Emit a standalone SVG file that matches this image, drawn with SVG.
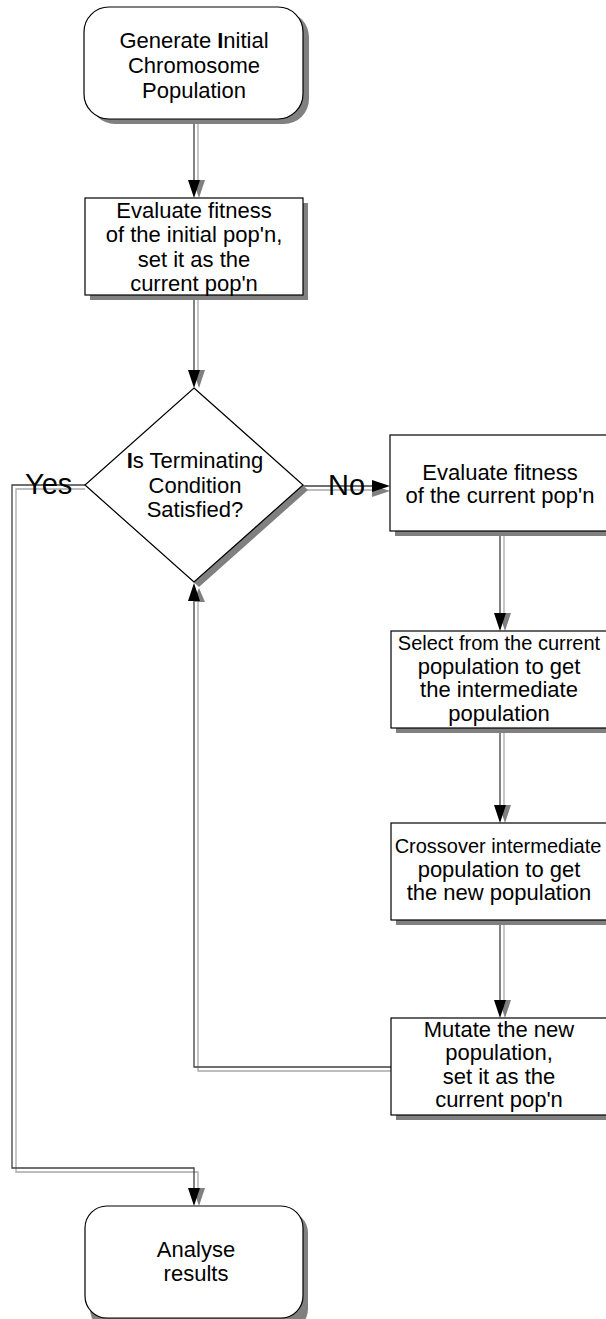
<svg xmlns="http://www.w3.org/2000/svg" width="606" height="1319" viewBox="0 0 606 1319">
<style>
.shadow{fill:#808080;stroke:none}
.node{fill:#fff;stroke:#000;stroke-width:1.2}
.t{font-family:"Liberation Sans",Arial,sans-serif;font-size:22px;fill:#000;text-anchor:middle}
.t.s{font-size:20px}
.lbl{font-family:"Liberation Sans",Arial,sans-serif;font-size:29px;fill:#000}
.ln{fill:none;stroke:#404040;stroke-width:1.3}
.lns{fill:none;stroke:#a8a8a8;stroke-width:1.3}
.ah{fill:#000}
.ahs{fill:#808080}
.b{font-weight:bold}
</style>
<rect width="606" height="1319" fill="#fff"/>
<g id="connectors">
  <path class="lns" d="M198,119 V182"/>
  <path class="ln" d="M194,119 V182"/>
  <polygon class="ahs" points="193,180 205,180 199,198"/>
  <polygon class="ah" points="188,180 200,180 194,198"/>
  <path class="lns" d="M198,295 V372"/>
  <path class="ln" d="M194,295 V372"/>
  <polygon class="ahs" points="193,370 205,370 199,388"/>
  <polygon class="ah" points="188,370 200,370 194,388"/>
  <path class="lns" d="M307,490 H375"/>
  <path class="ln" d="M303,486 H375"/>
  <polygon class="ahs" points="372,485 372,497 390,491"/>
  <polygon class="ah" points="372,480 372,492 390,486"/>
  <path class="lns" d="M504,531 V615"/>
  <path class="ln" d="M500,531 V615"/>
  <polygon class="ahs" points="499,613 511,613 505,631"/>
  <polygon class="ah" points="494,613 506,613 500,631"/>
  <path class="lns" d="M504,728 V807"/>
  <path class="ln" d="M500,728 V807"/>
  <polygon class="ahs" points="499,805 511,805 505,823"/>
  <polygon class="ah" points="494,805 506,805 500,823"/>
  <path class="lns" d="M504,920 V1002"/>
  <path class="ln" d="M500,920 V1002"/>
  <polygon class="ahs" points="499,1000 511,1000 505,1018"/>
  <polygon class="ah" points="494,1000 506,1000 500,1018"/>
  <path class="lns" d="M391,1071 H198 V600"/>
  <path class="ln" d="M391,1067 H194 V600"/>
  <polygon class="ahs" points="193,602 205,602 199,588"/>
  <polygon class="ah" points="188,601 200,601 194,583"/>
  <path class="lns" d="M85,489 H16 V1172 H198 V1190"/>
  <path class="ln" d="M85,485 H12 V1168 H194 V1190"/>
  <polygon class="ahs" points="193,1188 205,1188 199,1206"/>
  <polygon class="ah" points="188,1188 200,1188 194,1206"/>
  <text class="lbl" x="25" y="494">Yes</text>
  <text class="lbl" x="328" y="495">No</text>
</g>
<g id="start">
  <rect class="shadow" x="90" y="12" width="219" height="112" rx="25"/>
  <rect class="node" x="84" y="7" width="219" height="112" rx="25"/>
  <text class="t" x="194" y="48">Generate <tspan class="b">I</tspan>nitial</text>
  <text class="t" x="194" y="73">Chromosome</text>
  <text class="t" x="194" y="98">Population</text>
</g>
<g id="eval-initial">
  <rect class="shadow" x="90" y="203" width="218" height="97"/>
  <rect class="node" x="85" y="198" width="218" height="97"/>
  <text class="t" x="194" y="218">Evaluate fitness</text>
  <text class="t" x="194" y="242">of the initial pop'n,</text>
  <text class="t" x="194" y="267">set it as the</text>
  <text class="t" x="194" y="291">current pop'n</text>
</g>
<g id="decision">
  <polygon class="shadow" points="199,393 308,490 199,587 90,490"/>
  <polygon class="node" points="194,388 303,485 194,582 85,485"/>
  <text class="t" x="195" y="468"><tspan class="b">I</tspan>s Terminating</text>
  <text class="t" x="195" y="493">Condition</text>
  <text class="t" x="195" y="517">Satisfied?</text>
</g>
<g id="eval-current">
  <rect class="shadow" x="395" y="440" width="220" height="96"/>
  <rect class="node" x="390" y="435" width="220" height="96"/>
  <text class="t" x="500" y="480">Evaluate fitness</text>
  <text class="t" x="500" y="503">of the current pop'n</text>
</g>
<g id="select">
  <rect class="shadow" x="396" y="636" width="220" height="97"/>
  <rect class="node" x="391" y="631" width="220" height="97"/>
  <text class="t s" x="499" y="650">Select from the current</text>
  <text class="t" x="499" y="674">population to get</text>
  <text class="t" x="499" y="697">the intermediate</text>
  <text class="t" x="499" y="721">population</text>
</g>
<g id="crossover">
  <rect class="shadow" x="396" y="828" width="220" height="97"/>
  <rect class="node" x="391" y="823" width="220" height="97"/>
  <text class="t s" x="498" y="853">Crossover intermediate</text>
  <text class="t" x="499" y="877">population to get</text>
  <text class="t" x="499" y="900">the new population</text>
</g>
<g id="mutate">
  <rect class="shadow" x="396" y="1023" width="220" height="97"/>
  <rect class="node" x="391" y="1018" width="220" height="97"/>
  <text class="t" x="499" y="1037">Mutate the new</text>
  <text class="t" x="499" y="1060">population,</text>
  <text class="t" x="499" y="1084">set it as the</text>
  <text class="t" x="499" y="1107">current pop'n</text>
</g>
<g id="analyse">
  <rect class="shadow" x="90" y="1211" width="218" height="120" rx="22"/>
  <rect class="node" x="85" y="1206" width="218" height="112" rx="22"/>
  <text class="t" x="196" y="1257">Analyse</text>
  <text class="t" x="196" y="1281">results</text>
</g>
</svg>
